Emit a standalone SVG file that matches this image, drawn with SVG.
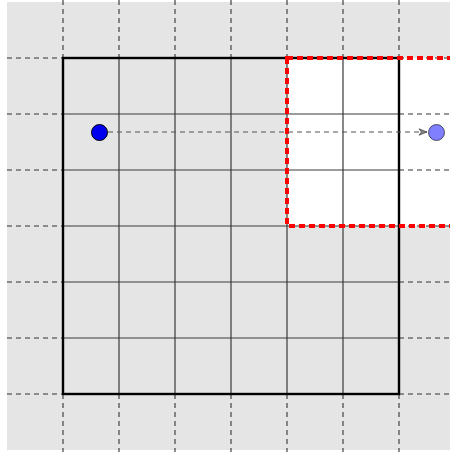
<svg xmlns="http://www.w3.org/2000/svg" width="450" height="452" viewBox="0 0 450 452">
<style>
.ext{stroke:#333;stroke-width:1.1;stroke-dasharray:5,4;fill:none}
.inn{stroke:#3a3a3a;stroke-width:1.2;fill:none}
</style>
<defs>
<marker id="ah" viewBox="0 0 10 10" refX="10" refY="5" markerWidth="10" markerHeight="8" markerUnits="userSpaceOnUse" orient="auto">
<path d="M0,1 L10,5 L0,9 L3,5 Z" fill="#888" stroke="#333" stroke-width="0.8"/>
</marker>
</defs>
<rect x="7" y="2" width="443" height="448" fill="#e5e5e5"/>
<rect x="287" y="58" width="170" height="168" fill="#fff"/>
<g id="grid-outside">
<path class="ext" d="M63,0V58M119,0V58M175,0V58M231,0V58M287,0V58M343,0V58M399,0V58M63,394V452M119,394V452M175,394V452M231,394V452M287,394V452M343,394V452M399,394V452M7,58H63M7,114H63M7,170H63M7,226H63M7,282H63M7,338H63M7,394H63M399,58H450M399,114H450M399,170H450M399,226H450M399,282H450M399,338H450M399,394H450"/>
</g>
<g id="grid-inside">
<path class="inn" d="M119,58V394M175,58V394M231,58V394M287,58V394M343,58V394M63,114H399M63,170H399M63,226H399M63,282H399M63,338H399"/>
</g>
<g id="square">
<rect x="63" y="58" width="336" height="336" fill="none" stroke="#000" stroke-width="2.4"/>
</g>
<g id="region">
<rect x="287" y="58" width="180" height="168" fill="none" stroke="#f00" stroke-width="4" stroke-dasharray="6,4"/>
</g>
<g id="connectors">
<line x1="99" y1="132" x2="427" y2="132" stroke="#555" stroke-width="1.1" stroke-dasharray="5,4" marker-end="url(#ah)"/>
</g>
<g id="source">
<circle cx="99.5" cy="132.5" r="8" fill="#0000ee" stroke="#000" stroke-width="1"/>
</g>
<g id="target">
<circle cx="436.5" cy="132.5" r="8" fill="#8080ff" stroke="#000" stroke-width="0.6"/>
</g>
</svg>
